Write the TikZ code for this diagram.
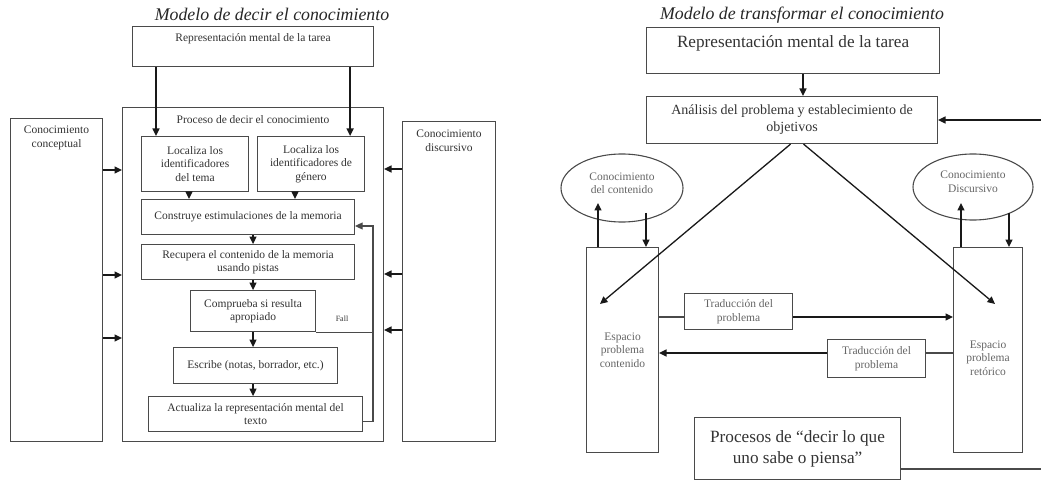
\documentclass[tikz,border=0pt]{standalone}
\usepackage{fontspec}
\setmainfont{Liberation Serif}
\usetikzlibrary{arrows.meta,shapes.geometric}
\definecolor{txt}{HTML}{333333}
\definecolor{edge}{HTML}{4a4a4a}
\newcommand\fsm{\fontsize{11.5}{13.5}\selectfont}
\newcommand\fmd{\fontsize{14}{17}\selectfont}
\newcommand\flg{\fontsize{17.2}{21}\selectfont}
\newcommand\fttl{\fontsize{17.8}{20}\selectfont\itshape}
\begin{document}
\begin{tikzpicture}[x=1pt,y=-1pt,
  box/.style={draw=edge, line width=1.1pt, inner sep=0pt, anchor=north west, text=txt, align=center, font=\fsm},
  ell/.style={draw=edge, line width=1.1pt, ellipse, inner sep=0pt},
  lbl/.style={inner sep=0pt, text=txt, align=center, font=\fsm},
  ttl/.style={inner sep=0pt, text=black!85, font=\fttl},
  ln/.style={draw=black!90, line width=1.3pt},
  thin/.style={draw=edge, line width=1.1pt},
  arr/.style={draw=black!90, line width=1.3pt, -{Triangle[length=7.5pt,width=7pt]}}]
\fill[white] (0,0) rectangle (1041,481);
\useasboundingbox (0,0) rectangle (1041,481);

% ---------------- left model ----------------
\node[ttl] (title1) at (272,14) {Modelo de decir el conocimiento};
\node[box, minimum width=241, minimum height=40] (rep1) at (132,26) {};
\node[lbl] (rep1t) at ([yshift=-13pt]rep1.north) {Representación mental de la tarea};
\node[box, minimum width=261, minimum height=334] (proc) at (122,107) {};
\node[lbl] (proct) at ([yshift=-13pt]proc.north) {Proceso de decir el conocimiento};
\node[box, minimum width=92, minimum height=323] (conc) at (10,118) {};
\node[lbl] (conct) at ([yshift=-20pt]conc.north) {Conocimiento\\conceptual};
\node[box, minimum width=93, minimum height=320] (disc) at (402,121) {};
\node[lbl] (disct) at ([yshift=-20pt]disc.north) {Conocimiento\\discursivo};

\node[box, minimum width=107, minimum height=55] (loc1) at (141,136) {Localiza los\\identificadores\\del tema};
\node[box, minimum width=107, minimum height=55] (loc2) at (257,136) {Localiza los\\identificadores de\\género};
\node[box, minimum width=213, minimum height=35] (cons) at (141,199) {Construye estimulaciones de la memoria};
\node[box, minimum width=213, minimum height=35] (recu) at (141,244) {Recupera el contenido de la memoria\\usando pistas};
\node[box, minimum width=125, minimum height=41] (comp) at (190,290) {Comprueba si resulta\\apropiado};
\node[box, minimum width=164, minimum height=36] (escr) at (173,347) {Escribe (notas, borrador, etc.)};
\node[box, minimum width=214, minimum height=35] (actu) at (148,396) {Actualiza la representación mental del\\texto};
\node[lbl, font=\fontsize{8}{9}\selectfont] (fall) at (342,319) {Fall};

\coordinate (a1) at ([xshift=24pt]rep1.south west);
\coordinate (a2) at ([xshift=-24pt]rep1.south east);
\draw[arr] (a1) -- (a1 |- loc1.north);
\draw[arr] (a2) -- (a2 |- loc2.north);
\coordinate (b1) at ([xshift=48pt]loc1.south west);
\coordinate (b2) at ([xshift=38pt]loc2.south west);
\draw[arr] (b1) -- (b1 |- cons.north);
\draw[arr] (b2) -- (b2 |- cons.north);
\draw[arr] (cons.south -| comp.north) -- (recu.north -| comp.north);
\draw[arr] (recu.south -| comp.north) -- (comp.north);
\draw[arr] (comp.south) -- (escr.north -| comp.south);
\draw[arr] (escr.south -| comp.south) -- (actu.north -| comp.south);

\coordinate (fb) at (373,226);
\draw[thin, -{Triangle[length=7.5pt,width=7pt]}] ([yshift=-7pt]actu.east) -| (fb) -- (fb -| cons.east);
\draw[thin] (comp.south east) -- (comp.south east -| fb);

\foreach \yy in {170,275,338}
  \draw[arr] (conc.east |- 0,\yy) -- (proc.west |- 0,\yy);
\foreach \yy in {169,274,330}
  \draw[arr] (disc.west |- 0,\yy) -- (proc.east |- 0,\yy);

% ---------------- right model ----------------
\node[ttl] (title2) at (802,15) {Modelo de transformar el conocimiento};
\node[box, minimum width=293, minimum height=46] (rep2) at (646,27) {};
\node[lbl, font=\flg] (rep2t) at ([yshift=-16pt]rep2.north) {Representación mental de la tarea};
\node[box, minimum width=291, minimum height=47, font=\fmd] (ana) at (646,96) {Análisis del problema y establecimiento de\\objetivos};
\coordinate (r1) at ([xshift=157pt]rep2.south west);
\draw[arr] (r1) -- (r1 |- ana.north);

\node[ell, minimum width=122, minimum height=68] (ell1) at (622,188) {};
\node[lbl, text=black!60] (ell1t) at ([yshift=5pt]ell1.center) {Conocimiento\\del contenido};
\node[ell, minimum width=120, minimum height=66] (ell2) at (973,187) {};
\node[lbl, text=black!60] (ell2t) at ([yshift=5pt]ell2.center) {Conocimiento\\Discursivo};

\node[box, minimum width=72, minimum height=205, text=black!60] (esp1) at (586,247) {Espacio\\problema\\contenido};
\node[box, minimum width=69, minimum height=205] (esp2) at (953,247) {};
\node[lbl, text=black!60] (esp2t) at ([yshift=-8pt]esp2.center) {Espacio\\problema\\retórico};

\node[box, minimum width=108, minimum height=36, text=black!60] (tr1) at (684,293) {Traducción del\\problema};
\node[box, minimum width=98, minimum height=38, text=black!60] (tr2) at (827,339) {Traducción del\\problema};
\node[box, minimum width=206, minimum height=62, font=\flg] (proc2) at (694,417) {Procesos de “decir lo que\\uno sabe o piensa”};

\coordinate (d1) at ([xshift=-1.5pt]ana.south);
\coordinate (d2) at ([xshift=11.5pt]ana.south);
\coordinate (e1) at ([xshift=14pt,yshift=-57pt]esp1.north west);
\coordinate (e2) at ([xshift=42pt,yshift=-57pt]esp2.north west);
\draw[arr] (d1) -- (e1);
\draw[arr] (d2) -- (e2);

\coordinate (u1) at ([xshift=12pt]esp1.north west);
\coordinate (u1t) at ([yshift=-15pt]ell1.center);
\draw[arr] (u1) -- (u1 |- u1t);
\coordinate (v1) at ([xshift=24pt,yshift=-25pt]ell1.center);
\draw[arr] (v1) -- (v1 |- esp1.north);
\coordinate (u2) at ([xshift=8pt]esp2.north west);
\coordinate (u2t) at ([yshift=-16pt]ell2.center);
\draw[arr] (u2) -- (u2 |- u2t);
\coordinate (v2) at ([xshift=36pt,yshift=-26pt]ell2.center);
\draw[arr] (v2) -- (v2 |- esp2.north);

\draw[thin] (esp1.east |- 0,317) -- (tr1.west |- 0,317);
\draw[arr] (tr1.east |- 0,317) -- (esp2.west |- 0,317);
\draw[thin] (esp2.west |- 0,353) -- (tr2.east |- 0,353);
\draw[arr] (tr2.west |- 0,353) -- (esp1.east |- 0,353);

\coordinate (rb) at (1041,469);
\coordinate (rt) at (1041,120);
\draw[thin] (proc2.east |- rb) -- (rb);
\draw[arr] (rt) -- (rt -| ana.east);
\end{tikzpicture}
\end{document}
